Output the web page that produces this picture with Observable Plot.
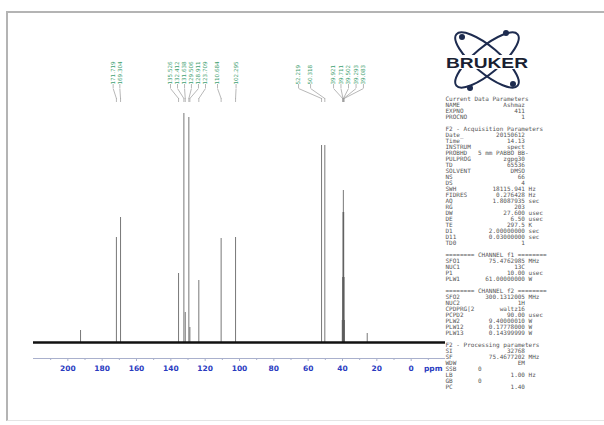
<!DOCTYPE html>
<html>
<head>
<meta charset="utf-8">
<script src="https://cdn.jsdelivr.net/npm/d3@7"></script>
<script src="https://cdn.jsdelivr.net/npm/@observablehq/plot@0.6"></script>
<style>
  html, body { margin: 0; padding: 0; background: #fff; }
  #wrap { position: relative; width: 604px; height: 425px; overflow: hidden; background: #fff; }
  #wrap > * { position: absolute; left: 0; top: 0; }
  #border { left: 6px; top: 11px; width: 620px; height: 410px; border-left: 2px solid #b4b4b4; border-top: 2px solid #b4b4b4; border-bottom: 1px solid #e4e4e4; box-sizing: border-box; }
</style>
</head>
<body>
<div id="wrap">
  <div id="border"></div>
</div>
<script>
// ---- data ----
const majorTicks = [200, 180, 160, 140, 120, 100, 80, 60, 40, 20, 0];
const minorTicks = [210, 190, 170, 150, 130, 110, 90, 70, 50, 30, 10, -10];
const axisUnit = "ppm";

// peak positions (ppm) and intensities (arbitrary units)
const peakPpm    = [192.6, 171.7, 169.3, 135.5, 132.4, 131.6, 129.5, 128.9, 123.7, 110.7, 102.3, 52.2, 50.3, 40.13, 39.92, 39.71, 39.50, 39.29, 39.08, 38.87, 25.6];
const peakHeight = [12,    105,   125,   69,    229,   30,    225,   15,    62,    104,   105,   197,  197,  22,    65,    130,   152,   130,   65,    22,    9];

// peak labels: text, label position (ppm), peak pointed to (ppm)
const labelText = ["171.719", "169.304", "135.526", "132.412", "131.638", "129.506", "128.911", "123.709", "110.684", "102.295", "52.219", "50.318", "39.921", "39.711", "39.502", "39.293", "39.083"];
const labelPos  = [173.6, 169.7, 140.2, 136.1, 132.0, 128.0, 123.9, 119.8, 112.8, 102.0, 65.6, 58.6, 45.2, 40.9, 36.5, 32.1, 27.8];
const labelPeak = [171.7, 169.3, 135.5, 132.4, 131.6, 129.5, 128.9, 123.7, 110.7, 102.3, 52.2, 50.3, 39.92, 39.71, 39.50, 39.29, 39.08];

// acquisition / processing parameter block
const paramName = ["Current Data Parameters", "NAME", "EXPNO", "PROCNO", "",
  "F2 - Acquisition Parameters", "Date_", "Time", "INSTRUM", "PROBHD", "PULPROG", "TD", "SOLVENT", "NS", "DS", "SWH", "FIDRES", "AQ", "RG", "DW", "DE", "TE", "D1", "D11", "TD0", "",
  "======== CHANNEL f1 ========", "SFO1", "NUC1", "P1", "PLW1", "",
  "======== CHANNEL f2 ========", "SFO2", "NUC2", "CPDPRG[2", "PCPD2", "PLW2", "PLW12", "PLW13", "",
  "F2 - Processing parameters", "SI", "SF", "WDW", "SSB", "LB", "GB", "PC"];
const paramValue = ["", "Ashmaz", "411", "1", "",
  "", "20150612", "14.13", "spect", "5 mm PABBO BB-", "zgpg30", "65536", "DMSO", "66", "4", "18115.941", "0.276428", "1.8087935", "203", "27.600", "6.50", "297.5", "2.00000000", "0.03000000", "1", "",
  "", "75.4762985", "13C", "10.00", "61.00000000", "",
  "", "300.1312005", "1H", "waltz16", "90.00", "9.40000010", "0.17778000", "0.14399999", "",
  "", "32768", "75.4677202", "EM", "0", "1.00", "0", "1.40"];
const paramUnit = ["", "", "", "", "",
  "", "", "", "", "", "", "", "", "", "", "Hz", "Hz", "sec", "", "usec", "usec", "K", "sec", "sec", "", "",
  "", "MHz", "", "usec", "W", "",
  "", "MHz", "", "", "usec", "W", "W", "W", "",
  "", "", "MHz", "", "", "Hz", "", ""];

// ---- build tables ----
const peaks = peakPpm.map((p, i) => ({ppm: p, h: peakHeight[i]}));
const labels = labelText.map((t, i) => ({text: t, pos: labelPos[i], peak: labelPeak[i]}));
const NB = "\u00A0";
const params = paramName.map((n, i) => {
  let line;
  if (!paramValue[i] && !paramUnit[i]) line = n;
  else if (n === "SSB" || n === "GB") line = n.padEnd(9) + paramValue[i];
  else line = n.padEnd(9) + paramValue[i].padStart(13) + (paramUnit[i] ? " " + paramUnit[i] : "");
  return {i, line: line.replace(/ /g, NB)};
});

const axisFloor = -16;
const axisColor = "#a9b0cc";
const tickTextColor = "#2a3bbf";

const spectrum = Plot.plot({
  width: 604, height: 425,
  marginLeft: 33, marginRight: 159, marginTop: 113, marginBottom: 67,
  x: {domain: [220, -20]},
  y: {domain: [axisFloor, 229], axis: null},
  style: {background: "transparent", overflow: "visible", fontFamily: "DejaVu Sans"},
  marks: [
    // axis line and ticks
    Plot.ruleY([axisFloor], {stroke: axisColor, strokeWidth: 1}),
    Plot.axisX(minorTicks, {anchor: "bottom", tickSize: 2, text: null, label: null, stroke: axisColor}),
    Plot.axisX(majorTicks, {anchor: "bottom", tickSize: 3, text: null, label: null, stroke: axisColor}),
    Plot.text(majorTicks, {x: d => d, text: d => String(d), frameAnchor: "bottom", dy: 12, fontSize: 7.5, fill: tickTextColor, fontWeight: 600}),
    Plot.text([axisUnit], {frameAnchor: "bottom-right", dx: -3, dy: 12, textAnchor: "end", fontSize: 7.5, fill: tickTextColor, fontWeight: 600}),
    // peaks
    Plot.ruleX(peaks, {x: "ppm", y1: 0, y2: "h", stroke: "#555", strokeWidth: 0.8}),
    // noisy baseline
    Plot.ruleY([0], {stroke: "#111", strokeWidth: 2.6}),
    // peak label connectors
    Plot.ruleX(labels, {x: "pos", y1: 254, y2: 258, stroke: "#9a9a9a", strokeWidth: 0.7}),
    Plot.link(labels, {x1: "pos", x2: "peak", y1: 254, y2: 244, stroke: "#9a9a9a", strokeWidth: 0.7}),
    Plot.ruleX(labels, {x: "peak", y1: 240, y2: 244, stroke: "#9a9a9a", strokeWidth: 0.7}),
    // peak labels
    Plot.text(labels, {x: "pos", text: "text", frameAnchor: "top", dy: -29, rotate: -90, textAnchor: "start", lineAnchor: "middle",
      fill: "#3f9f72", fontSize: 5.6})
  ]
});

const panel = Plot.plot({
  width: 604, height: 425,
  marginLeft: 445, marginRight: 0, marginTop: 0, marginBottom: 0,
  y: {type: "point", domain: params.map(d => d.i), range: [93, 393.5], padding: 0, axis: null},
  style: {background: "transparent", overflow: "visible"},
  marks: [
    Plot.text(params, {y: "i", text: "line", frameAnchor: "left", textAnchor: "start", lineAnchor: "middle",
      fontFamily: "DejaVu Sans Mono", fontSize: 6, fill: "#555"})
  ]
});

const wrap = document.getElementById("wrap");
wrap.appendChild(spectrum);
wrap.appendChild(panel);

// Bruker logo (decorative)
const logo = document.createElementNS("http://www.w3.org/2000/svg", "svg");
logo.setAttribute("width", 604); logo.setAttribute("height", 425);
logo.innerHTML = `
  <g transform="translate(487,60)" fill="none" stroke="#1d2b4f" stroke-width="2">
    <ellipse rx="40" ry="13" transform="rotate(40)"/>
    <ellipse rx="40" ry="13" transform="rotate(-40)"/>
  </g>
  <g fill="#1d2b4f">
    <circle cx="462" cy="37" r="3"/>
    <circle cx="513" cy="84" r="3"/>
    <circle cx="470" cy="88" r="3"/>
    <circle cx="506" cy="33" r="3"/>
  </g>
  <rect x="446" y="55" width="82" height="14" fill="#fff"/>
  <text x="446" y="68" font-family="Liberation Sans, Arial, sans-serif" font-weight="bold" font-size="15.5" fill="#1a1f33"
    textLength="82" lengthAdjust="spacingAndGlyphs">BRUKER</text>`;
wrap.appendChild(logo);
</script>
</body>
</html>
